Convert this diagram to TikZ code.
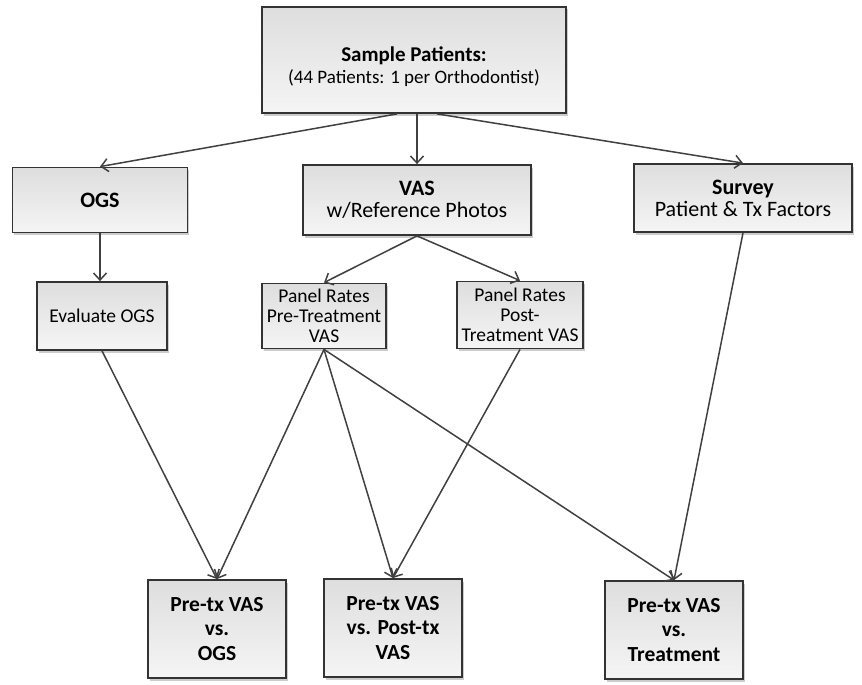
\documentclass[tikz,border=0pt]{standalone}
\usepackage{fontspec}
\setmainfont{Carlito}
\usetikzlibrary{arrows.meta,shadows}

\begin{document}
\begin{tikzpicture}[x=1pt,y=-1pt,
    box/.style={draw=black!80, line width=1.8pt, top color=gray!26, bottom color=gray!8,
      drop shadow={shadow xshift=1.5pt, shadow yshift=-2.5pt, fill=black!40},
      align=center, inner sep=0pt, font=\fontsize{22}{22}\selectfont},
    small/.style={font=\fontsize{19.5}{20}\selectfont},
    result/.style={font=\bfseries\fontsize{21.5}{24.5}\selectfont, minimum width=138, minimum height=98},
    link/.style={draw=black!75, line width=1.5pt, -{Straight Barb[length=7pt,width=13pt]}}]
  \useasboundingbox (0,0) rectangle (862,685);

  % top row
  \node[box, minimum width=304, minimum height=106] (sample) at (414,60)
    {\rule{0pt}{29pt}{\bfseries\fontsize{21}{21}\selectfont Sample Patients:}\\{\fontsize{19}{21}\selectfont(44 Patients: 1 per Orthodontist)}};
  \node[box, minimum width=175, minimum height=65] (ogs) at (100,200) {\textbf{OGS}};
  \node[box, minimum width=228, minimum height=70] (vas) at (417,200) {\textbf{VAS}\\w/Reference Photos};
  \node[box, minimum width=218, minimum height=68] (survey) at (743,198) {\textbf{Survey}\\Patient \& Tx Factors};

  % middle row
  \node[box, small, minimum width=130, minimum height=68] (evalogs) at (102,316) {Evaluate OGS};
  \node[box, small, minimum width=124, minimum height=65] (pre) at (324,316) {Panel Rates\\Pre-Treatment\\VAS};
  \node[box, small, minimum width=126, minimum height=67] (post) at (520,315) {Panel Rates\\Post-\\Treatment VAS};

  % comparisons
  \node[box, result] (res1) at (217,629) {Pre-tx VAS\\vs.\\OGS};
  \node[box, result] (res2) at (393,628) {Pre-tx VAS\\vs. Post-tx\\VAS};
  \node[box, result] (res3) at (674,630) {Pre-tx VAS\\vs.\\Treatment};

  \draw[link] ([xshift=-17]sample.south) -- (ogs.north);
  \draw[link] (sample.south -| vas.north) -- (vas.north);
  \draw[link] ([xshift=23]sample.south) -- (survey.north);
  \draw[link] (ogs.south) -- (ogs.south |- evalogs.north);
  \draw[link] (vas.south) -- (pre.north);
  \draw[link] (vas.south) -- (post.north);
  \draw[link] (survey.south) -- (res3.north);
  \draw[link] (evalogs.south) -- (res1.north);
  \foreach \r in {res1,res2,res3}
    \draw[link] (pre.south) -- (\r.north);
  \draw[link] (post.south) -- (res2.north);
\end{tikzpicture}
\end{document}
